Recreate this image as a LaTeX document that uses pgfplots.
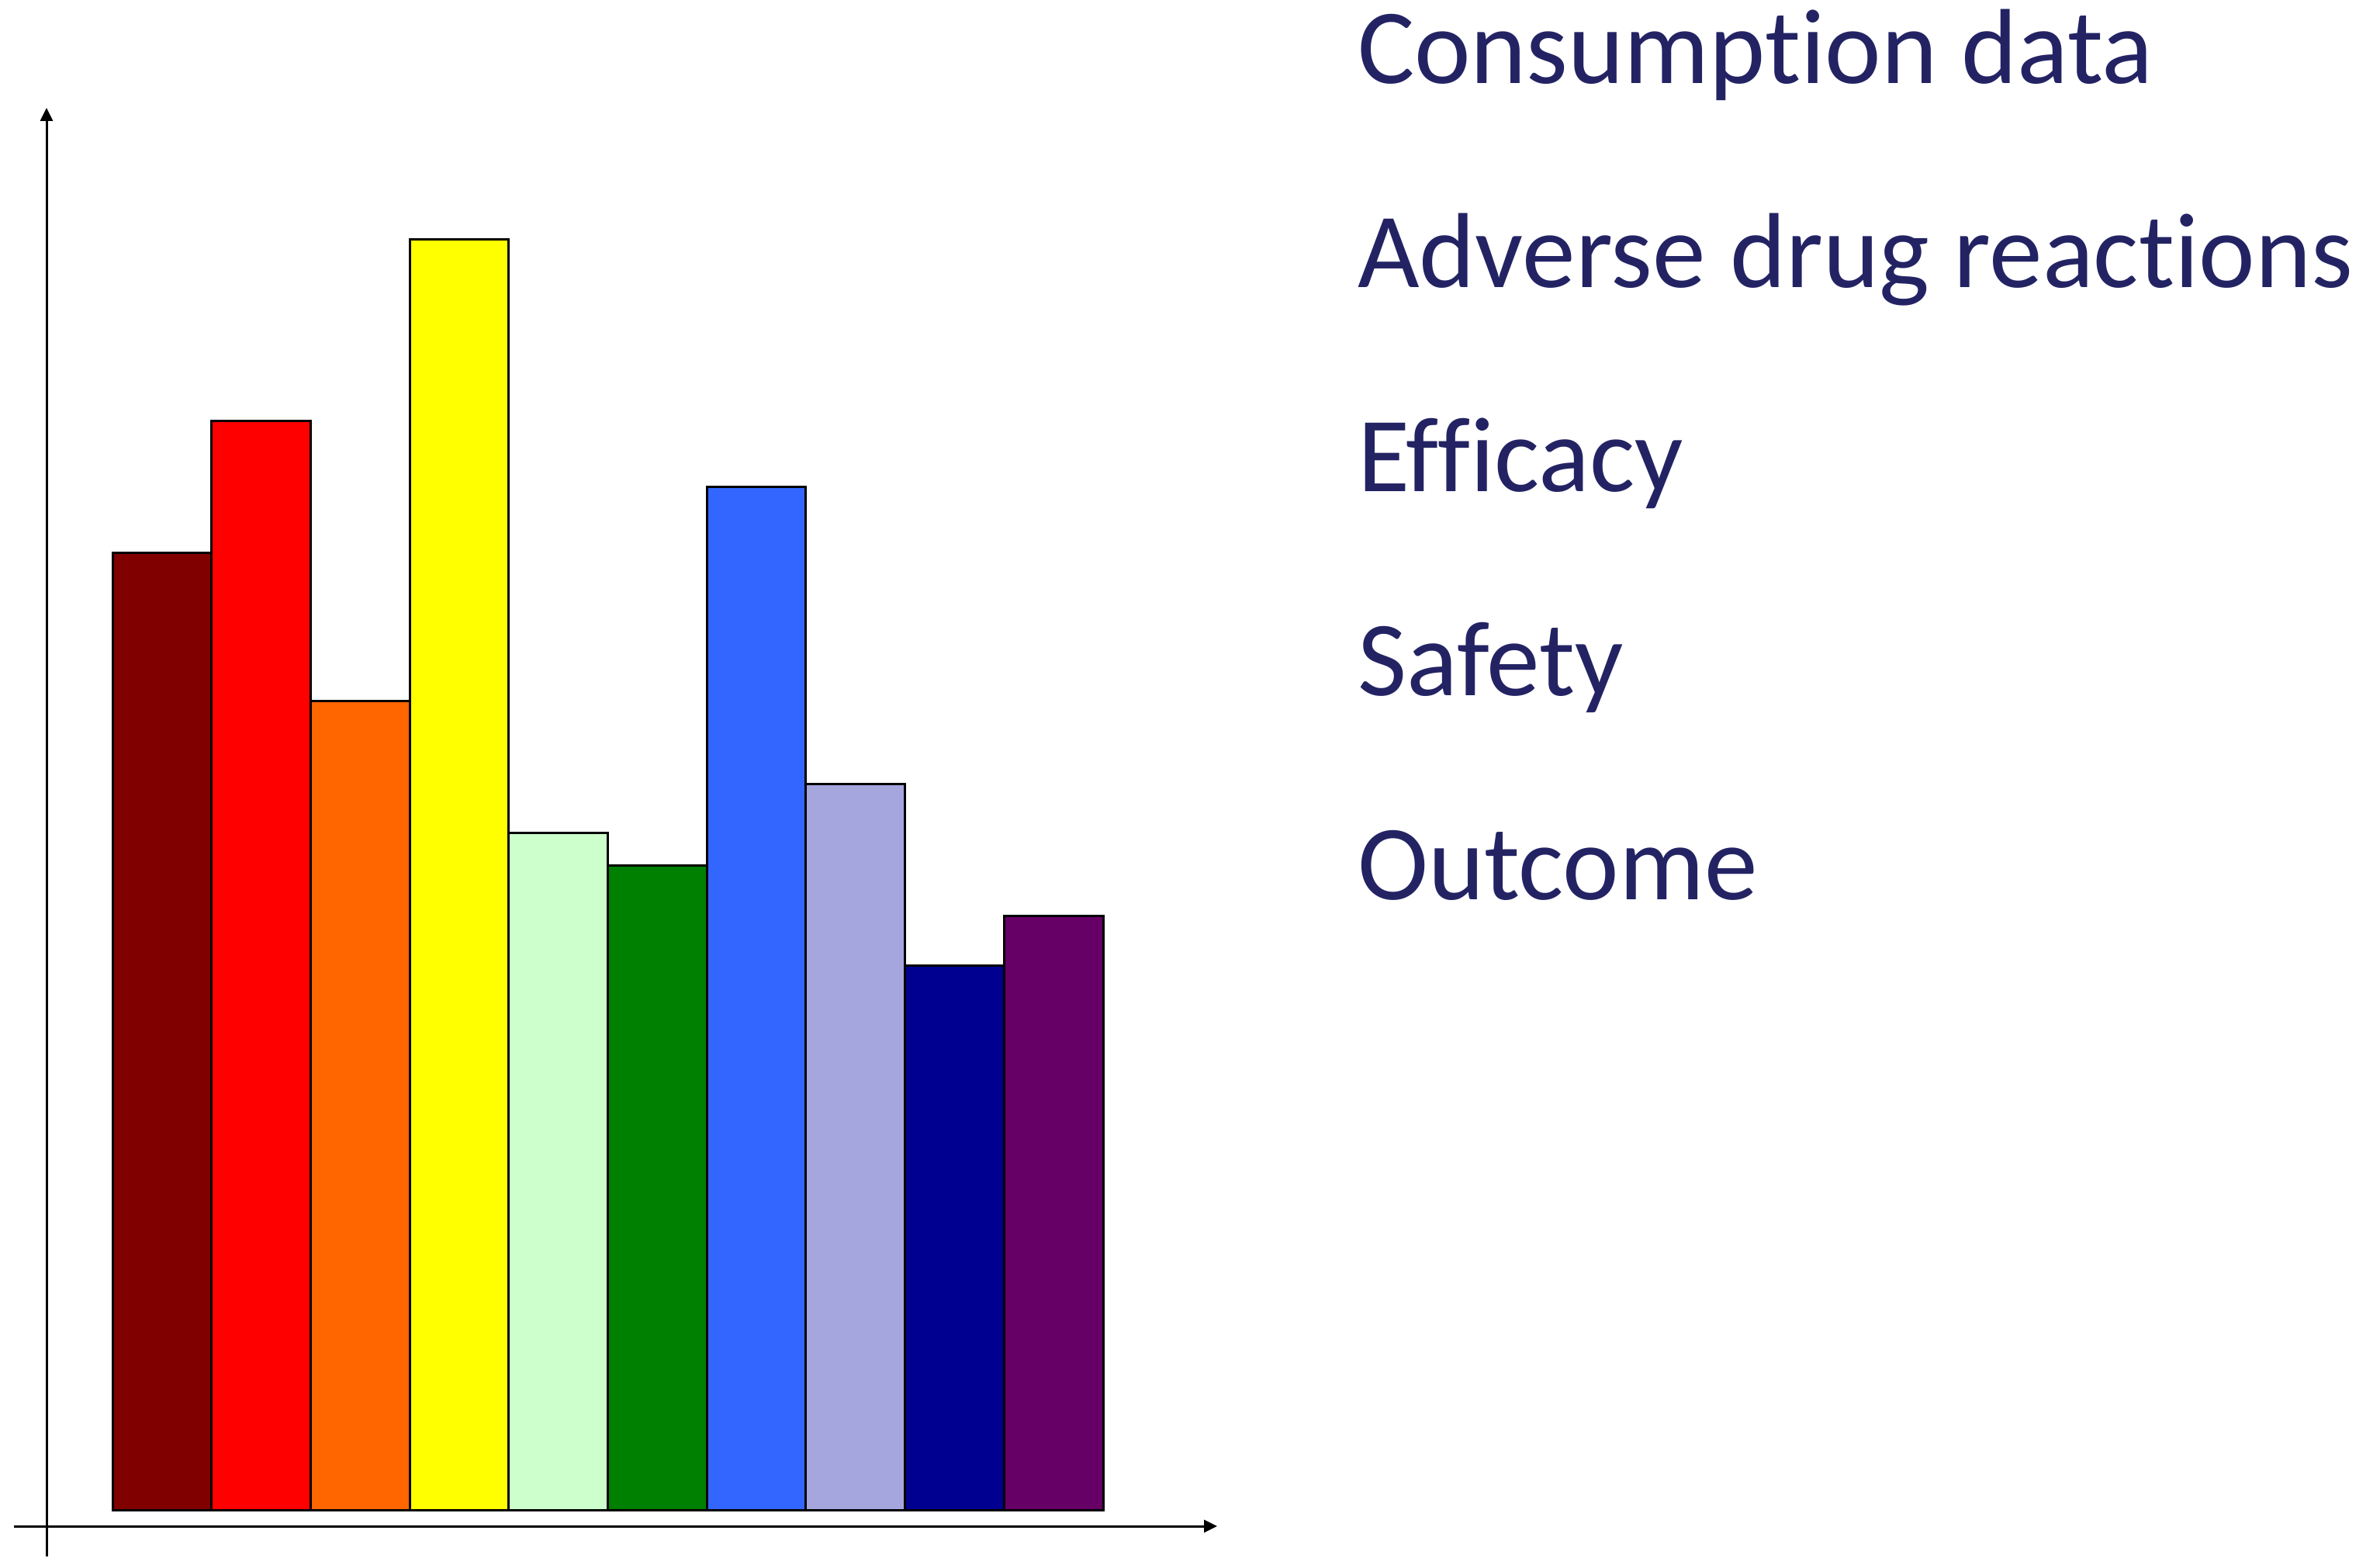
\documentclass[border=0pt]{standalone}
\usepackage{pgfplots}
\pgfplotsset{compat=1.18}
\usepackage{fontspec}
\setmainfont{Carlito}[Ligatures=CommonOff]
\usetikzlibrary{arrows.meta}
\definecolor{c1}{HTML}{800000}
\definecolor{c2}{HTML}{FF0000}
\definecolor{c3}{HTML}{FF6600}
\definecolor{c4}{HTML}{FFFF00}
\definecolor{c5}{HTML}{CCFFCC}
\definecolor{c6}{HTML}{008000}
\definecolor{c7}{HTML}{3366FF}
\definecolor{c8}{HTML}{A6A6DF}
\definecolor{c9}{HTML}{000090}
\definecolor{c10}{HTML}{660066}
\definecolor{txt}{RGB}{35,35,100}
\begin{document}
\begin{tikzpicture}
\begin{axis}[
  scale only axis, width=306.8pt, height=200.6pt,
  xmin=0, xmax=3068, ymin=-60, ymax=1946,
  hide axis, clip=false, no markers,
  ybar, bar width=127.7, bar shift=0pt,
  every axis plot/.append style={draw=black, line width=0.3pt},
]
\path (axis cs:0,-60) rectangle (axis cs:3068,1946);
\addplot[fill=c1]  coordinates {(208.85,1233)};
\addplot[fill=c2]  coordinates {(336.55,1403)};
\addplot[fill=c3]  coordinates {(464.25,1042)};
\addplot[fill=c4]  coordinates {(591.95,1637)};
\addplot[fill=c5]  coordinates {(719.65,872)};
\addplot[fill=c6]  coordinates {(847.35,830)};
\addplot[fill=c7]  coordinates {(975.05,1318)};
\addplot[fill=c8]  coordinates {(1102.75,935)};
\addplot[fill=c9]  coordinates {(1230.45,702)};
\addplot[fill=c10] coordinates {(1358.15,765)};
\draw[line width=0.3pt, -{Triangle[width=1.6pt,length=1.7pt]}] (axis cs:60,-60) -- (axis cs:60,1807);
\draw[line width=0.3pt, -{Triangle[width=1.6pt,length=1.7pt]}] (axis cs:18,-21) -- (axis cs:1569,-21);
\begin{scope}[every node/.style={anchor=base west, inner sep=0pt, text=txt, font=\fontsize{13.75}{16}\selectfont}]
\node at (axis cs:1748,1838) {Consumption data};
\node at (axis cs:1748,1575) {Adverse drug reactions};
\node at (axis cs:1748,1312) {Efficacy};
\node at (axis cs:1748,1049) {Safety};
\node at (axis cs:1748,786) {Outcome};
\end{scope}
\end{axis}
\end{tikzpicture}
\end{document}
